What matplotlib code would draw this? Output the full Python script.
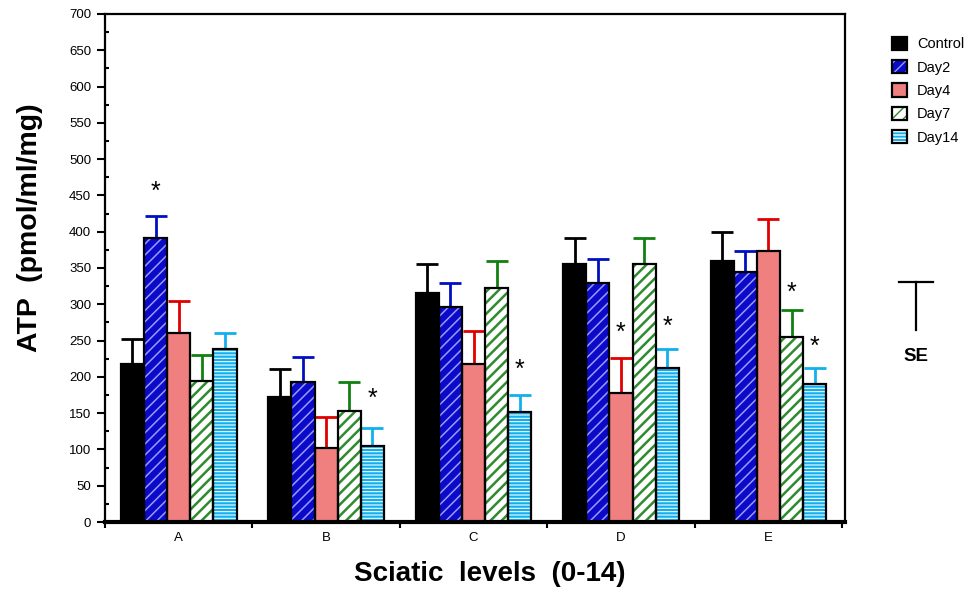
"""ATP levels along the sciatic nerve, grouped bars with upper SE whiskers."""

import matplotlib

matplotlib.use("Agg")
import matplotlib.pyplot as plt
import numpy as np
from matplotlib.lines import Line2D
from matplotlib.ticker import MultipleLocator

plt.rcParams["font.family"] = ["Liberation Sans", "DejaVu Sans"]

levels = ["A", "B", "C", "D", "E"]
series = ["Control", "Day2", "Day4", "Day7", "Day14"]

control = [218, 172, 316, 356, 360]
control_se = [34, 39, 39, 36, 40]
day2 = [392, 193, 296, 329, 344]
day2_se = [30, 34, 33, 33, 30]
day4 = [260, 102, 218, 178, 373]
day4_se = [44, 43, 45, 48, 44]
day7 = [194, 153, 322, 355, 255]
day7_se = [36, 40, 37, 37, 37]
day14 = [238, 105, 152, 212, 190]
day14_se = [22, 25, 23, 26, 22]

# (level index, series index, y of the asterisk)
stars = [(0, 1, 455), (1, 4, 170), (2, 4, 209), (3, 2, 261),
         (3, 4, 269), (4, 3, 316), (4, 4, 242)]

values = [control, day2, day4, day7, day14]
errors = [control_se, day2_se, day4_se, day7_se, day14_se]
# face, hatch colour, hatch, hatch width, error bar colour
styles = [
    ("black", "black", None, 1.0, "black"),
    ("#0a0ac8", "#9a9aff", "///", 1.1, "#0010c0"),
    ("#f08080", "#f08080", None, 1.0, "#e00000"),
    ("white", "#2e8b2e", "///", 1.8, "#108010"),
    ("#10b0ee", "white", "-----", 0.8, "#10b0ee"),
]

fig = plt.figure(figsize=(9.76, 5.92), dpi=100)
ax = fig.add_axes([0.1076, 0.1182, 0.7582, 0.8582])

x = np.arange(len(levels))
width = 0.157
handles = []
for k, (vals, errs, (face, hcol, hatch, hlw, ecol)) in enumerate(
        zip(values, errors, styles)):
    pos = x + (k - 2) * width
    with plt.rc_context({"hatch.linewidth": hlw}):
        fill = ax.bar(pos, vals, width, color=face, edgecolor=hcol, hatch=hatch,
                      linewidth=0, zorder=2)
    for p in fill:
        if hasattr(p, "set_hatch_linewidth"):
            p.set_hatch_linewidth(hlw)
    edge = ax.bar(pos, vals, width, facecolor="none", edgecolor="black",
                  linewidth=1.6, zorder=3)
    ax.errorbar(pos, vals, yerr=[np.zeros(len(errs)), errs], fmt="none",
                ecolor=ecol, elinewidth=2, capsize=8, capthick=2, zorder=1)
    handles.append((fill[0], edge[0]))

for gi, si, ys in stars:
    ax.text(x[gi] + (si - 2) * width, ys, "*", ha="center", va="center",
            fontsize=18, zorder=4)

ax.set_xlim(-0.5, 4.52)
ax.set_ylim(0, 700)
ax.yaxis.set_major_locator(MultipleLocator(50))
ax.yaxis.set_minor_locator(MultipleLocator(25))
ax.tick_params(axis="y", which="major", direction="out", length=6, width=1.5,
               labelsize=9.5, pad=4)
ax.tick_params(axis="y", which="minor", direction="in", length=3, width=1.5)

ax.set_xticks(np.arange(-0.5, 5, 1.0))
ax.set_xticklabels([])
ax.set_xticks(x, levels, minor=True)
ax.tick_params(axis="x", which="major", direction="out", length=4, width=1.5)
ax.tick_params(axis="x", which="minor", length=0, pad=7, labelsize=9.5)

for side in ["left", "right", "top"]:
    ax.spines[side].set_linewidth(1.6)
ax.spines["bottom"].set_linewidth(3)

ax.set_ylabel("ATP  (pmol/ml/mg)", fontsize=20.5, fontweight="bold")
ax.yaxis.set_label_coords(-0.101, 0.58)
ax.set_xlabel("Sciatic  levels  (0-14)", fontsize=20, fontweight="bold")
ax.xaxis.set_label_coords(0.52, -0.103)
ax.xaxis.label.set_verticalalignment("center")
ax.yaxis.label.set_verticalalignment("center")

fig.legend(handles, series, loc="upper left", bbox_to_anchor=(0.908, 0.948),
           frameon=False, fontsize=10.5, handlelength=1.0, handleheight=1.0,
           handletextpad=0.7, labelspacing=0.61, borderaxespad=0)

# SE key to the right of the plot
fig.add_artist(Line2D([0.921, 0.956], [0.524, 0.524], color="black", lw=1.6))
fig.add_artist(Line2D([0.9385, 0.9385], [0.524, 0.443], color="black", lw=1.6))
fig.text(0.9385, 0.398, "SE", ha="center", va="center", fontsize=13.5,
         fontweight="bold")

fig.savefig("out.png", dpi=100)
